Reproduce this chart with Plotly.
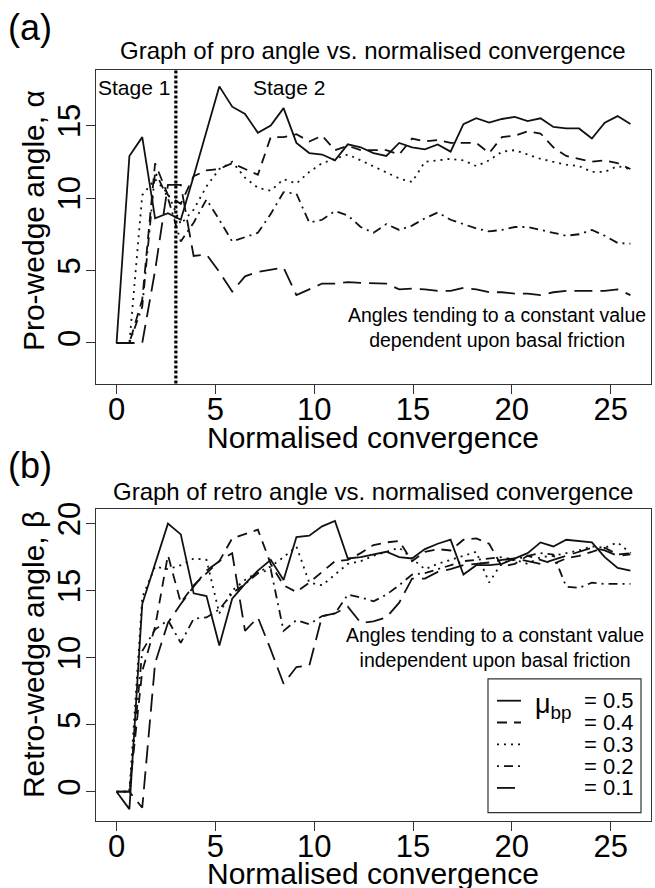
import plotly.graph_objects as go

W, H = 655, 888
FONT = "Liberation Sans, Arial, Helvetica, sans-serif"

# ---------------- data ----------------
convergence = [0.0, 0.65, 1.3, 1.95, 2.6, 3.25, 3.9, 4.55, 5.2, 5.85, 6.5, 7.15, 7.8, 8.45,
               9.1, 9.75, 10.4, 11.05, 11.7, 12.35, 13.0, 13.65, 14.3, 14.95, 15.6, 16.25,
               16.9, 17.55, 18.2, 18.85, 19.5, 20.15, 20.8, 21.45, 22.1, 22.75, 23.4, 24.05,
               24.7, 25.35, 26.0]

friction_labels = ["= 0.5", "= 0.4", "= 0.3", "= 0.2", "= 0.1"]

pro_05 = [0, 12.9, 14.2, 8.6, 8.95, 8.5, 11.5, 14.6, 17.7, 16.3, 15.8, 14.5, 15.0, 16.2, 13.8,
          13.1, 13.0, 12.6, 13.7, 13.5, 13.1, 12.9, 13.8, 13.5, 13.35, 13.7, 13.2, 15.1, 15.5,
          15.2, 15.45, 15.6, 15.3, 15.5, 14.9, 14.8, 14.8, 14.1, 15.2, 15.65, 15.1]
pro_04 = [0, 0, 3.0, 12.4, 10.2, 9.6, 11.5, 11.9, 12.0, 12.4, 12.0, 11.6, 14.2, 14.2, 14.4,
          13.9, 14.3, 13.3, 13.6, 13.3, 13.3, 13.3, 13.0, 14.1, 13.9, 14.0, 13.8, 13.8, 13.8,
          13.1, 14.2, 14.3, 14.6, 14.45, 13.5, 12.9, 12.7, 12.5, 12.6, 12.4, 12.0]
pro_03 = [0, 0, 10.2, 11.3, 10.3, 8.2, 9.2, 10.8, 12.0, 12.5, 11.4, 10.7, 10.5, 11.3, 11.0,
          11.8, 12.4, 12.7, 13.0, 12.6, 12.2, 11.8, 11.35, 11.1, 12.5, 12.6, 12.7, 12.6, 12.2,
          12.6, 13.2, 13.3, 13.0, 12.7, 12.5, 12.3, 12.2, 11.8, 11.8, 12.2, 12.0]
pro_02 = [0, 0, 2.5, 11.8, 10.0, 7.0, 8.3, 9.9, 8.5, 7.0, 7.3, 7.6, 8.9, 10.4, 10.3, 8.3, 8.5,
          9.1, 8.8, 8.0, 7.6, 8.2, 7.8, 8.1, 8.6, 9.0, 8.5, 8.2, 7.9, 7.7, 7.8, 8.0, 8.0, 7.8,
          7.6, 7.4, 7.5, 7.8, 7.4, 6.9, 6.85]
pro_01 = [0, 0, 0, 5.0, 10.9, 10.9, 6.0, 6.1, 4.9, 3.55, 4.6, 4.9, 5.05, 5.2, 3.3, 3.7, 4.1,
          4.1, 4.2, 4.15, 4.1, 4.1, 3.7, 3.75, 3.7, 3.6, 3.6, 3.8, 3.7, 3.5, 3.5, 3.4, 3.4, 3.3,
          3.5, 3.6, 3.6, 3.6, 3.6, 3.7, 3.3]

retro_05 = [0, -1.3, 14.0, 17.0, 20.0, 19.2, 14.8, 14.6, 10.9, 14.4, 15.5, 16.5, 17.3, 15.8,
            19.0, 19.1, 19.8, 20.2, 17.4, 17.5, 17.7, 17.9, 17.5, 17.4, 18.1, 18.5, 18.8, 16.2,
            16.9, 16.9, 17.0, 17.4, 17.8, 18.6, 18.3, 18.8, 18.7, 18.6, 17.5, 16.7, 16.5]
retro_04 = [0, 0, 9.0, 12.3, 17.65, 14.1, 15.4, 16.3, 17.2, 18.9, 19.2, 19.55, 17.0, 15.4,
            14.9, 15.6, 16.4, 17.2, 17.3, 17.8, 18.4, 18.6, 18.7, 17.2, 17.9, 18.1, 18.0, 18.8,
            18.9, 18.5, 16.8, 17.0, 17.6, 17.3, 17.0, 17.4, 17.6, 17.9, 18.2, 17.7, 17.8]
retro_03 = [0, 0, 14.5, 16.8, 16.6, 16.9, 17.4, 17.3, 13.3, 15.0, 15.8, 16.4, 16.8, 17.5,
            18.3, 15.6, 15.4, 16.2, 17.0, 17.2, 17.6, 17.9, 18.2, 17.4, 16.6, 17.0, 17.3, 17.6,
            17.9, 15.6, 17.1, 17.3, 17.0, 17.5, 17.6, 17.8, 18.0, 18.3, 18.2, 18.6, 17.8]
retro_02 = [0, 0, 10.5, 12.1, 12.8, 11.1, 12.9, 13.0, 13.6, 14.8, 15.5, 16.3, 16.6, 12.0,
            12.8, 12.5, 13.1, 13.3, 14.7, 14.5, 14.2, 14.7, 15.4, 16.2, 16.3, 16.6, 16.9, 17.2,
            17.3, 17.4, 17.5, 17.3, 17.6, 17.8, 17.7, 15.3, 15.2, 15.6, 15.5, 15.5, 15.5]
retro_01 = [0, 0, -1.2, 9.6, 12.6, 14.0, 15.3, 16.5, 17.2, 17.8, 12.0, 13.0, 10.6, 8.05, 9.3,
            9.4, 13.1, 13.3, 13.8, 12.6, 12.7, 13.0, 14.1, 15.9, 15.9, 16.4, 16.6, 16.9, 17.0,
            17.1, 17.3, 17.4, 17.2, 17.0, 17.3, 17.6, 17.9, 18.2, 18.0, 17.6, 17.7]

stage_boundary = 3.0
x_ticks = [0, 5, 10, 15, 20, 25]
pro_ticks = [0, 5, 10, 15]
retro_ticks = [0, 5, 10, 15, 20]

# ---------------- styles ----------------
dashes = ["solid", "10px,7px", "2px,5px", "2px,5px,9px,5px", "18px,8px"]
LW = 1.8
INK = "#111"


def px_x(p):
    return p / W


def px_y(p):
    return 1 - p / H


fig = go.Figure()

pro = [pro_05, pro_04, pro_03, pro_02, pro_01]
retro = [retro_05, retro_04, retro_03, retro_02, retro_01]
for name, ys, d in zip(friction_labels, pro, dashes):
    fig.add_trace(go.Scatter(x=convergence, y=ys, mode="lines", name=name,
                             line=dict(color=INK, width=LW, dash=d),
                             xaxis="x", yaxis="y", showlegend=False))
for name, ys, d in zip(friction_labels, retro, dashes):
    fig.add_trace(go.Scatter(x=convergence, y=ys, mode="lines", name=name,
                             line=dict(color=INK, width=LW, dash=d),
                             xaxis="x2", yaxis="y2", showlegend=False))

axis_common = dict(showgrid=False, zeroline=False, showline=True, mirror=True,
                   linecolor="#333", linewidth=1.2, ticks="outside", ticklen=9,
                   tickwidth=1.2, tickcolor="#333",
                   tickfont=dict(family=FONT, size=31, color="black"))

xdom = [px_x(96), px_x(651)]
fig.update_layout(
    width=W, height=H, margin=dict(l=0, r=0, t=0, b=0),
    paper_bgcolor="white", plot_bgcolor="white",
    font=dict(family=FONT, color="black"),
    xaxis=dict(domain=xdom, range=[-1.04, 27.04], anchor="y", tickvals=x_ticks,
               ticklabelstandoff=-11, **axis_common),
    yaxis=dict(domain=[px_y(379), px_y(63)], range=[-2.8, 18.8], anchor="x",
               tickvals=pro_ticks, tickangle=-90, ticklabelstandoff=-6, **axis_common),
    xaxis2=dict(domain=xdom, range=[-1.04, 27.04], anchor="y2", tickvals=x_ticks,
                ticklabelstandoff=-11, **axis_common),
    yaxis2=dict(domain=[px_y(820), px_y(506)], range=[-2.16, 21.06], anchor="x2",
                tickvals=retro_ticks, tickangle=-90, ticklabelstandoff=-6, **axis_common),
)

# stage boundary
fig.add_shape(type="line", xref="x", yref="y domain", x0=stage_boundary, x1=stage_boundary,
              y0=0, y1=1, line=dict(color="black", width=3.2, dash="3px,2px"))


def ann(text, x, y, size, angle=0, xanchor="center", yanchor="middle", align="center"):
    fig.add_annotation(text=text, x=px_x(x), y=px_y(y), xref="paper", yref="paper",
                       showarrow=False, textangle=angle, xanchor=xanchor, yanchor=yanchor,
                       align=align, font=dict(family=FONT, size=size, color="black"))


# panel (a)
ann("(a)", 30, 20, 36)
ann("Graph of pro angle vs. normalised convergence", 373, 43, 24)
ann("Normalised convergence", 373, 433, 30)
ann("Pro-wedge angle, α", 33, 215, 30, angle=-90)
ann("Stage 1", 134, 80, 21)
ann("Stage 2", 289, 80, 21)
ann("Angles tending to a constant value<br>dependent upon basal friction", 497, 322, 19.5)

# panel (b)
ann("(b)", 30, 462, 36)
ann("Graph of retro angle vs. normalised convergence", 373, 488, 24)
ann("Normalised convergence", 373, 873, 30)
ann("Retro-wedge angle, β", 33, 653, 30, angle=-90)
ann("Angles tending to a constant value<br>independent upon basal friction", 495, 645, 19.5)

# legend box (manual, matching the original layout)
fig.add_shape(type="rect", xref="paper", yref="paper", x0=px_x(488), x1=px_x(641),
              y0=px_y(812), y1=px_y(677), line=dict(color="#333", width=1.2),
              fillcolor="white", layer="above")
rows = [699, 721, 743, 765, 787]
for lab, d, yy in zip(friction_labels, dashes, rows):
    fig.add_shape(type="line", xref="paper", yref="paper", x0=px_x(497), x1=px_x(521),
                  y0=px_y(yy), y1=px_y(yy), line=dict(color=INK, width=LW, dash=d),
                  layer="above")
    ann(lab, 582, yy, 22, xanchor="left")
ann("μ<sub>bp</sub>", 533, 704, 27, xanchor="left")

fig.write_html("out.html")
